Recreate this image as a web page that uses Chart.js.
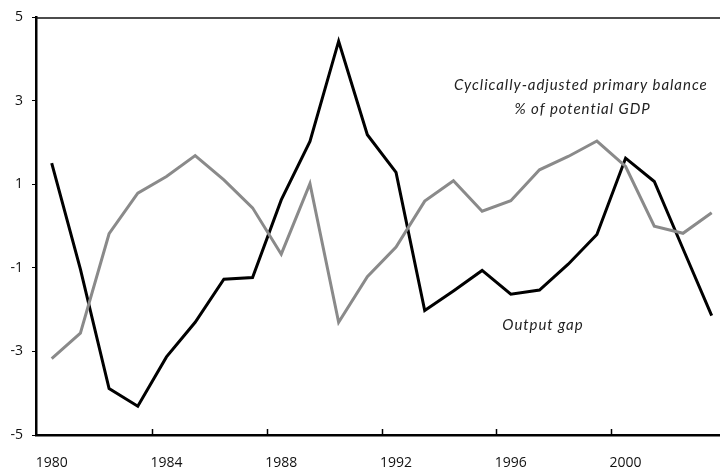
<!DOCTYPE html>
<html>
<head>
<meta charset="utf-8">
<script src="https://cdn.jsdelivr.net/npm/chart.js@4/dist/chart.umd.min.js"></script>
<style>
  html, body { margin: 0; padding: 0; background: #fff; }
  #wrap { width: 720px; height: 472px; position: relative; }
</style>
</head>
<body>
<div id="wrap"><canvas id="c" width="720" height="472"></canvas></div>
<script>
// ---- data ----
const years = [1980,1981,1982,1983,1984,1985,1986,1987,1988,1989,1990,1991,
               1992,1993,1994,1995,1996,1997,1998,1999,2000,2001,2002,2003];
const outputGap = [1.51, -1.03, -3.89, -4.31, -3.13, -2.30, -1.27, -1.23, 0.63, 2.03, 4.43, 2.19,
                   1.29, -2.02, -1.55, -1.06, -1.63, -1.53, -0.91, -0.20, 1.63, 1.07, -0.54, -2.14];
const primaryBalance = [-3.17, -2.56, -0.18, 0.79, 1.19, 1.69, 1.11, 0.44, -0.67, 1.02, -2.30, -1.21,
                        -0.50, 0.60, 1.09, 0.36, 0.61, 1.35, 1.67, 2.04, 1.43, 0.00, -0.17, 0.32];
const xTickYears = [1980, 1984, 1988, 1992, 1996, 2000];
const xMarkYears = [1983.5, 1987.5, 1991.5, 1995.5, 1999.5];
const yTicks = [-5, -3, -1, 1, 3, 5];
const labelBalance = ['Cyclically-adjusted primary balance', '% of potential GDP'];
const labelGap = 'Output gap';

const toPts = arr => arr.map((v, i) => ({ x: years[i] - years[0], y: v }));

const decor = {
  id: 'decor',
  afterDatasetsDraw(chart) {
    const { ctx, chartArea: a, scales: { x, y } } = chart;
    ctx.save();
    // top border line
    ctx.strokeStyle = '#111';
    ctx.lineWidth = 1.5;
    ctx.beginPath();
    ctx.moveTo(a.left, a.top + 0.5);
    ctx.lineTo(a.right, a.top + 0.5);
    ctx.stroke();
    // inward x tick marks
    ctx.lineWidth = 1.5;
    ctx.strokeStyle = '#000';
    xMarkYears.forEach(yr => {
      const px = Math.round(x.getPixelForValue(yr - years[0])) + 0.5;
      ctx.beginPath();
      ctx.moveTo(px, a.bottom);
      ctx.lineTo(px, a.bottom - 6);
      ctx.stroke();
    });
    // annotations
    ctx.fillStyle = '#222';
    ctx.textAlign = 'center';
    ctx.textBaseline = 'middle';
    ctx.font = 'italic 15px Lato';
    try { ctx.letterSpacing = '0.95px'; } catch (e) {}
    ctx.fillText(labelBalance[0], x.getPixelForValue(18.44), y.getPixelForValue(3.38));
    ctx.fillText(labelBalance[1], x.getPixelForValue(18.5), y.getPixelForValue(2.80));
    ctx.fillText(labelGap, x.getPixelForValue(17.12), y.getPixelForValue(-2.38));
    ctx.restore();
  }
};

new Chart(document.getElementById('c'), {
  type: 'line',
  data: {
    datasets: [
      { label: 'Cyclically-adjusted primary balance', data: toPts(primaryBalance),
        borderColor: '#8a8a8a', borderWidth: 3, pointRadius: 0, tension: 0, fill: false },
      { label: 'Output gap', data: toPts(outputGap),
        borderColor: '#000', borderWidth: 3, pointRadius: 0, tension: 0, fill: false }
    ]
  },
  options: {
    responsive: false,
    animation: false,
    events: [],
    layout: { padding: { top: 15, right: 0, left: 0, bottom: 0 } },
    plugins: { legend: { display: false }, tooltip: { enabled: false }, title: { display: false } },
    scales: {
      x: {
        type: 'linear',
        min: -0.547,
        max: 23.29,
        afterBuildTicks: s => { s.ticks = xTickYears.map(v => ({ value: v - years[0] })); },
        afterFit: s => { s.height = 37; },
        ticks: {
          autoSkip: false, maxRotation: 0,
          callback: v => String(years[0] + v),
          color: '#111', font: { family: 'Open Sans', size: 14 }, padding: 12
        },
        grid: { display: false },
        border: { display: true, color: '#000', width: 2.5 }
      },
      y: {
        type: 'linear',
        min: -5, max: 5,
        afterBuildTicks: s => { s.ticks = yTicks.map(v => ({ value: v })); },
        afterFit: s => { s.width = 36; },
        ticks: { color: '#111', font: { family: 'Open Sans', size: 14 }, padding: 9 },
        grid: { display: true, drawOnChartArea: false, drawTicks: true, tickLength: 4, color: '#000', lineWidth: 1 },
        border: { display: true, color: '#000', width: 2.5 }
      }
    }
  },
  plugins: [decor]
});
</script>
</body>
</html>
